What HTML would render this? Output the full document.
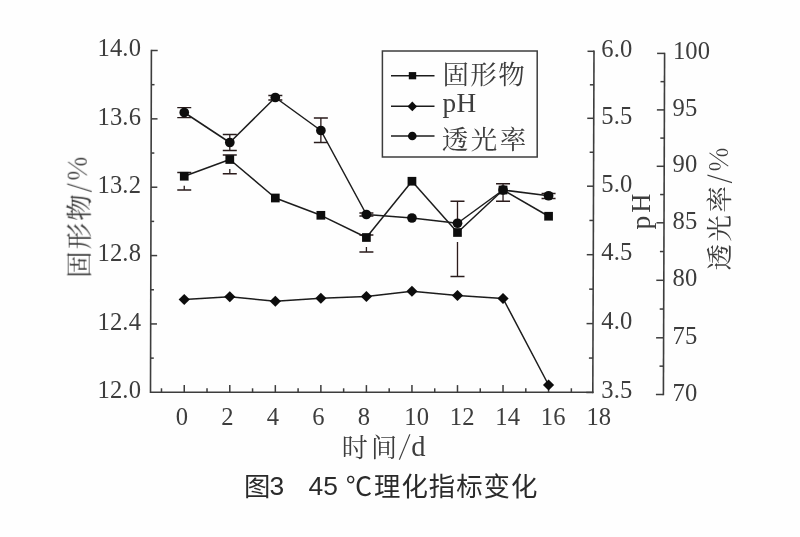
<!DOCTYPE html>
<html lang="zh-CN"><head><meta charset="utf-8"><title>图3 45 ℃理化指标变化</title>
<style>html,body{margin:0;padding:0;background:#fefefe}svg{display:block}</style>
</head><body>
<svg width="800" height="537" viewBox="0 0 800 537">
<defs><filter id="b" x="-5%" y="-5%" width="110%" height="110%"><feGaussianBlur stdDeviation="0.45"/></filter><filter id="t" x="-5%" y="-5%" width="110%" height="110%"><feGaussianBlur stdDeviation="0.38"/></filter></defs>
<rect width="800" height="537" fill="#fefefe"/>
<g filter="url(#b)">
<g stroke="#3c3c3c" stroke-width="1.6" fill="none" stroke-linecap="butt">
<path d="M151.39999999999998 49.75 L150.5 392.3 H593.55"/>
<path d="M594.0 50.55 L592.8 393.25"/>
<path d="M664.5999999999999 52.65 L663.4 395.25"/>
</g>
<g stroke="#3c3c3c" stroke-width="1.5" fill="none">
<path d="M150.59 358.12 h3.2"/>
<path d="M150.68 323.94 h6.3"/>
<path d="M150.77 289.76 h3.2"/>
<path d="M150.86 255.58 h6.3"/>
<path d="M150.95 221.40 h3.2"/>
<path d="M151.04 187.22 h6.3"/>
<path d="M151.13 153.04 h3.2"/>
<path d="M151.22 118.86 h6.3"/>
<path d="M151.31 84.68 h3.2"/>
<path d="M151.40 50.50 h6.3"/>
<path d="M161.48 392.3 v-4"/>
<path d="M184.25 392.3 v-7.2"/>
<path d="M207.02 392.3 v-4"/>
<path d="M229.79 392.3 v-7.2"/>
<path d="M252.56 392.3 v-4"/>
<path d="M275.33 392.3 v-7.2"/>
<path d="M298.10 392.3 v-4"/>
<path d="M320.87 392.3 v-7.2"/>
<path d="M343.64 392.3 v-4"/>
<path d="M366.41 392.3 v-7.2"/>
<path d="M389.18 392.3 v-4"/>
<path d="M411.95 392.3 v-7.2"/>
<path d="M434.72 392.3 v-4"/>
<path d="M457.49 392.3 v-7.2"/>
<path d="M480.26 392.3 v-4"/>
<path d="M503.03 392.3 v-7.2"/>
<path d="M525.80 392.3 v-4"/>
<path d="M548.57 392.3 v-7.2"/>
<path d="M571.34 392.3 v-4"/>
<path d="M592.80 392.50 h-6.5"/>
<path d="M592.92 358.05 h-4"/>
<path d="M593.04 323.60 h-6.5"/>
<path d="M593.16 289.15 h-4"/>
<path d="M593.28 254.70 h-6.5"/>
<path d="M593.41 220.45 h-4"/>
<path d="M593.53 186.20 h-6.5"/>
<path d="M593.64 152.25 h-4"/>
<path d="M593.76 118.30 h-6.5"/>
<path d="M593.88 84.80 h-4"/>
<path d="M594.00 51.30 h-6.5"/>
<path d="M663.40 394.50 h-7.5"/>
<path d="M663.50 366.15 h-4"/>
<path d="M663.60 337.80 h-7.5"/>
<path d="M663.70 309.05 h-4"/>
<path d="M663.80 280.30 h-7.5"/>
<path d="M663.90 251.55 h-4"/>
<path d="M664.00 222.80 h-7.5"/>
<path d="M664.10 194.55 h-4"/>
<path d="M664.20 166.30 h-7.5"/>
<path d="M664.30 138.10 h-4"/>
<path d="M664.40 109.90 h-7.5"/>
<path d="M664.50 81.65 h-4"/>
<path d="M664.60 53.40 h-7.5"/>
</g>
<g stroke="#1c1c1c" stroke-width="1.5" fill="none" stroke-linejoin="round">
<polyline points="184.25,176.25 229.79,159.50 275.33,198.00 320.87,215.30 366.41,237.50 411.95,181.25 457.49,232.50 503.03,190.00 548.57,216.25"/>
<polyline points="184.25,112.50 229.79,142.50 275.33,97.50 320.87,130.50 366.41,214.50 411.95,218.00 457.49,223.25 503.03,190.00 548.57,195.75"/>
<polyline points="184.25,299.50 229.79,296.75 275.33,301.25 320.87,298.25 366.41,296.50 411.95,291.25 457.49,295.50 503.03,298.50 548.57,385.00"/>
</g>
<g stroke="#2a1c1c" stroke-width="1.3" fill="none">
<path d="M184.25 185.85 V190 M177.25 172.5 h14 M177.25 190 h14"/>
<path d="M229.79 169.10 V173.75 M222.79 155 h14 M222.79 173.75 h14"/>
<path d="M366.41 247.10 V252 M359.41 235 h14 M359.41 252 h14"/>
<path d="M457.49 201.25 V222.90 M457.49 242.10 V276.5 M450.49 201.25 h14 M450.49 276.5 h14"/>
<path d="M503.03 183.75 V201.25 M496.03 183.75 h14 M496.03 201.25 h14"/>
<path d="M184.25 107.6 V117.7 M177.25 107.6 h14 M177.25 117.7 h14"/>
<path d="M229.79 134.5 V150.5 M222.79 134.5 h14 M222.79 150.5 h14"/>
<path d="M275.33 95.5 V100 M268.33 95.5 h14 M268.33 100 h14"/>
<path d="M320.87 118 V142.5 M313.87 118 h14 M313.87 142.5 h14"/>
<path d="M366.41 213 V216 M359.41 213 h14 M359.41 216 h14"/>
<path d="M548.57 193.5 V198.5 M541.57 193.5 h14 M541.57 198.5 h14"/>
</g>
<g fill="#0c0c0c" stroke="none">
<rect x="179.90" y="171.90" width="8.7" height="8.7"/>
<rect x="225.44" y="155.15" width="8.7" height="8.7"/>
<rect x="270.98" y="193.65" width="8.7" height="8.7"/>
<rect x="316.52" y="210.95" width="8.7" height="8.7"/>
<rect x="362.06" y="233.15" width="8.7" height="8.7"/>
<rect x="407.60" y="176.90" width="8.7" height="8.7"/>
<rect x="453.14" y="228.15" width="8.7" height="8.7"/>
<rect x="498.68" y="185.65" width="8.7" height="8.7"/>
<rect x="544.22" y="211.90" width="8.7" height="8.7"/>
<circle cx="184.25" cy="112.50" r="4.85"/>
<circle cx="229.79" cy="142.50" r="4.85"/>
<circle cx="275.33" cy="97.50" r="4.85"/>
<circle cx="320.87" cy="130.50" r="4.85"/>
<circle cx="366.41" cy="214.50" r="4.85"/>
<circle cx="411.95" cy="218.00" r="4.85"/>
<circle cx="457.49" cy="223.25" r="4.85"/>
<circle cx="503.03" cy="190.00" r="4.85"/>
<circle cx="548.57" cy="195.75" r="4.85"/>
<path d="M184.25 293.90 L189.85 299.50 L184.25 305.10 L178.65 299.50 Z"/>
<path d="M229.79 291.15 L235.39 296.75 L229.79 302.35 L224.19 296.75 Z"/>
<path d="M275.33 295.65 L280.93 301.25 L275.33 306.85 L269.73 301.25 Z"/>
<path d="M320.87 292.65 L326.47 298.25 L320.87 303.85 L315.27 298.25 Z"/>
<path d="M366.41 290.90 L372.01 296.50 L366.41 302.10 L360.81 296.50 Z"/>
<path d="M411.95 285.65 L417.55 291.25 L411.95 296.85 L406.35 291.25 Z"/>
<path d="M457.49 289.90 L463.09 295.50 L457.49 301.10 L451.89 295.50 Z"/>
<path d="M503.03 292.90 L508.63 298.50 L503.03 304.10 L497.43 298.50 Z"/>
<path d="M548.57 379.40 L554.17 385.00 L548.57 390.60 L542.97 385.00 Z"/>
</g>
<rect x="382.4" y="51" width="154.8" height="106" fill="#fefefe" stroke="#3c3c3c" stroke-width="1.5"/>
<g stroke="#1c1c1c" stroke-width="1.5">
<path d="M391 75.7 H434.5"/>
<path d="M391 106.3 H434.5"/>
<path d="M391 136 H434.5"/>
</g>
<g fill="#0c0c0c">
<rect x="408.8" y="72.1" width="7.4" height="7.2"/>
<path d="M412.3 101.6 L417.1 106.4 L412.3 111.2 L407.5 106.4 Z"/>
<circle cx="412.3" cy="136" r="4.3"/>
</g>
</g>
<g filter="url(#t)">
<g font-family='"Noto Serif CJK SC", "Liberation Serif", serif' font-weight="400" font-size="26.5" fill="#3c3c3c" letter-spacing="1.45">
<text x="442.4" y="83.9">固形物</text>
<text x="441.7" y="149.1" letter-spacing="2.5">透光率</text>
</g>
<text x="442.4" y="112.1" font-family='"Liberation Serif", "Noto Serif CJK SC", serif' font-size="27.2" fill="#3c3c3c" letter-spacing="0.4">pH</text>
<g font-family='"Liberation Serif", "Noto Serif CJK SC", serif' font-size="24.6" fill="#3c3c3c" letter-spacing="0.15">
<text x="141.1" y="398.00" text-anchor="end">12.0</text>
<text x="141.1" y="329.64" text-anchor="end">12.4</text>
<text x="141.1" y="261.28" text-anchor="end">12.8</text>
<text x="141.1" y="192.92" text-anchor="end">13.2</text>
<text x="141.1" y="124.56" text-anchor="end">13.6</text>
<text x="141.1" y="56.20" text-anchor="end">14.0</text>
<text x="181.90" y="424.5" text-anchor="middle">0</text>
<text x="227.44" y="424.5" text-anchor="middle">2</text>
<text x="272.98" y="424.5" text-anchor="middle">4</text>
<text x="318.52" y="424.5" text-anchor="middle">6</text>
<text x="364.06" y="424.5" text-anchor="middle">8</text>
<text x="416.70" y="424.5" text-anchor="middle">10</text>
<text x="462.24" y="424.5" text-anchor="middle">12</text>
<text x="507.78" y="424.5" text-anchor="middle">14</text>
<text x="553.32" y="424.5" text-anchor="middle">16</text>
<text x="598.86" y="424.5" text-anchor="middle">18</text>
<text x="601.3" y="398.00">3.5</text>
<text x="601.3" y="329.10">4.0</text>
<text x="601.3" y="260.20">4.5</text>
<text x="601.3" y="191.70">5.0</text>
<text x="601.3" y="123.80">5.5</text>
<text x="601.3" y="56.80">6.0</text>
<text x="672.5" y="400.50">70</text>
<text x="672.5" y="343.80">75</text>
<text x="672.5" y="286.30">80</text>
<text x="672.5" y="228.80">85</text>
<text x="672.5" y="172.30">90</text>
<text x="672.5" y="115.90">95</text>
<text x="672.9" y="59.40">100</text>
</g>
<g transform="translate(88.7 277.8) rotate(-90)" fill="#3c3c3c" font-family='"Noto Serif CJK SC", "Liberation Serif", serif' font-weight="400">
<text x="0" y="0" font-size="26.5" letter-spacing="2">固形物</text>
<text x="85.5" y="-2" font-size="26">/</text>
<text x="97.2" y="-1.6" font-size="26">%</text>
</g>
<g transform="translate(728.9 270.4) rotate(-90)" fill="#3c3c3c" font-family='"Noto Serif CJK SC", "Liberation Serif", serif' font-weight="400">
<text x="0" y="0" font-size="26.5" letter-spacing="2.4">透光率</text>
<text x="86.9" y="-2.4" font-size="26">/</text>
<text x="99" y="-0.5" font-size="26">%</text>
</g>
<text transform="translate(649.5 229.6) rotate(-90)" font-family='"Liberation Serif", "Noto Serif CJK SC", serif' font-size="26.5" fill="#3c3c3c"><tspan font-size="27.5">p</tspan><tspan dx="3">H</tspan></text>
<g fill="#3c3c3c">
<text x="341.7" y="457" font-family='"Noto Serif CJK SC", "Liberation Serif", serif' font-weight="400" font-size="26" letter-spacing="3.2">时间</text>
<text transform="translate(398.9 455.3) skewX(-6)" font-family='"Noto Serif CJK SC", "Liberation Serif", serif' font-weight="400" font-size="27">/</text>
<text x="411.2" y="455.5" font-family='"Liberation Serif", "Noto Serif CJK SC", serif' font-size="28.5">d</text>
</g>
<g font-family='"Liberation Sans", "Noto Sans CJK SC", sans-serif' fill="#2a2a2a" font-size="26.4">
<text x="243.9" y="496.4"><tspan x="243.9">图</tspan><tspan x="269.6" dy="-1.9">3</tspan><tspan x="308.5">45</tspan><tspan x="345.7" dy="1.9">℃</tspan><tspan x="374" letter-spacing="1.0">理化指标变化</tspan></text>
</g>
</g>
</svg>
</body></html>
